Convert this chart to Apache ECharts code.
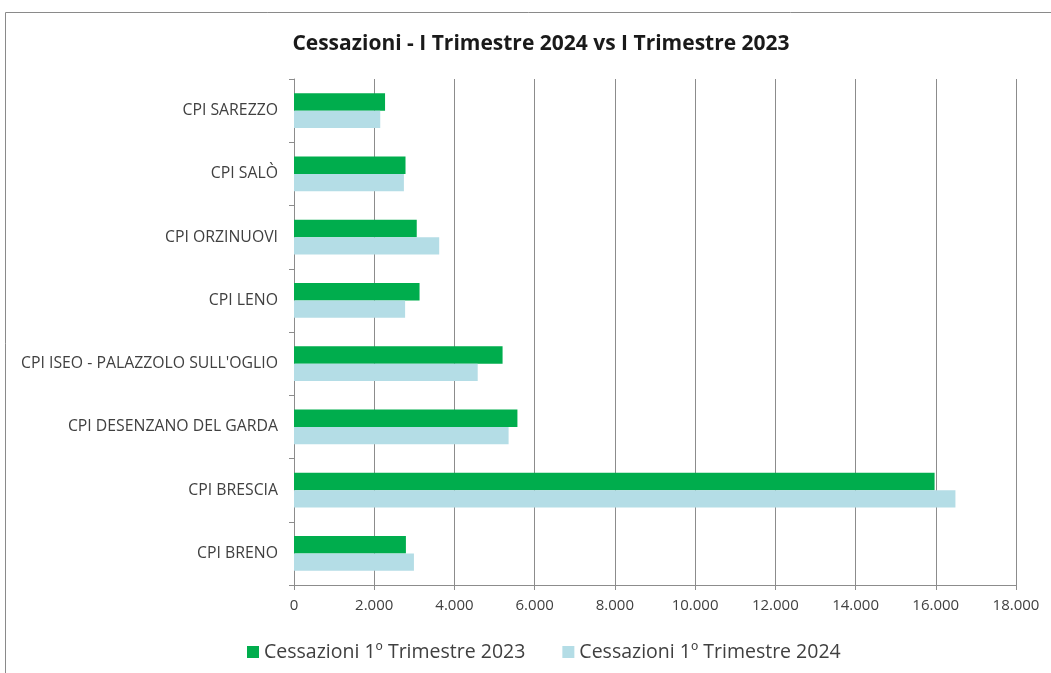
<!DOCTYPE html>
<html>
<head>
<meta charset="utf-8">
<script src="https://cdn.jsdelivr.net/npm/echarts@6/dist/echarts.min.js"></script>
<style>
  html, body { margin: 0; padding: 0; background: #fff; }
  #chart { width: 1051px; height: 673px; }
</style>
</head>
<body>
<div id="chart"></div>
<script>
// categories bottom -> top (category axis runs upward)
const centri = [
  'CPI BRENO',
  'CPI BRESCIA',
  'CPI DESENZANO DEL GARDA',
  "CPI ISEO - PALAZZOLO SULL'OGLIO",
  'CPI LENO',
  'CPI ORZINUOVI',
  'CPI SALÒ',
  'CPI SAREZZO'
]
const cessazioni2023 = [2790, 15970, 5570, 5200, 3130, 3060, 2780, 2270]
const cessazioni2024 = [2990, 16490, 5350, 4580, 2770, 3620, 2740, 2150]
const serieNomi = ['Cessazioni 1º Trimestre 2023', 'Cessazioni 1º Trimestre 2024']

const fmt = v => String(v).replace(/\B(?=(\d{3})+(?!\d))/g, '.')
const txt = '#404040'
const lineGray = '#8c8c8c'
const font = 'Open Sans, Liberation Sans, sans-serif'

const chart = echarts.init(document.getElementById('chart'))
chart.setOption({
  animation: false,
  backgroundColor: '#fff',
  graphic: [{
    type: 'rect',
    shape: { x: 5.5, y: 12.5, width: 1080, height: 700 },
    style: { fill: 'none', stroke: '#8a8a8a', lineWidth: 1 },
    z: -1
  }],
  title: {
    text: 'Cessazioni - I Trimestre 2024 vs I Trimestre 2023',
    left: 536,
    textAlign: 'center',
    top: 29,
    textStyle: { fontFamily: font, fontSize: 21, fontWeight: 'bold', color: '#1a1a1a' }
  },
  legend: {
    data: serieNomi,
    left: 242,
    top: 637,
    icon: 'rect',
    itemWidth: 12,
    itemHeight: 12,
    itemGap: 37,
    textStyle: { fontFamily: font, fontSize: 19.5, color: txt }
  },
  grid: { left: 294, right: 35, top: 79, bottom: 88, containLabel: false },
  xAxis: {
    type: 'value',
    min: 0,
    max: 18000,
    interval: 2000,
    axisLine: { show: true, lineStyle: { color: lineGray } },
    axisTick: { show: true, length: 5, lineStyle: { color: lineGray } },
    splitLine: { show: true, lineStyle: { color: lineGray, width: 1 } },
    axisLabel: {
      formatter: fmt, margin: 13,
      fontFamily: font, fontSize: 15, color: txt
    }
  },
  yAxis: {
    type: 'category',
    data: centri,
    axisLine: { show: true, lineStyle: { color: lineGray } },
    axisTick: { show: true, length: 5, lineStyle: { color: lineGray } },
    axisLabel: { margin: 16, fontFamily: font, fontSize: 15.8, color: txt }
  },
  series: [
    {
      name: serieNomi[0],
      type: 'bar',
      data: cessazioni2023,
      barGap: '0%',
      barCategoryGap: '45%',
      itemStyle: { color: '#00ad4d' }
    },
    {
      name: serieNomi[1],
      type: 'bar',
      data: cessazioni2024,
      itemStyle: { color: '#b4dde6' }
    }
  ]
})
</script>
</body>
</html>
